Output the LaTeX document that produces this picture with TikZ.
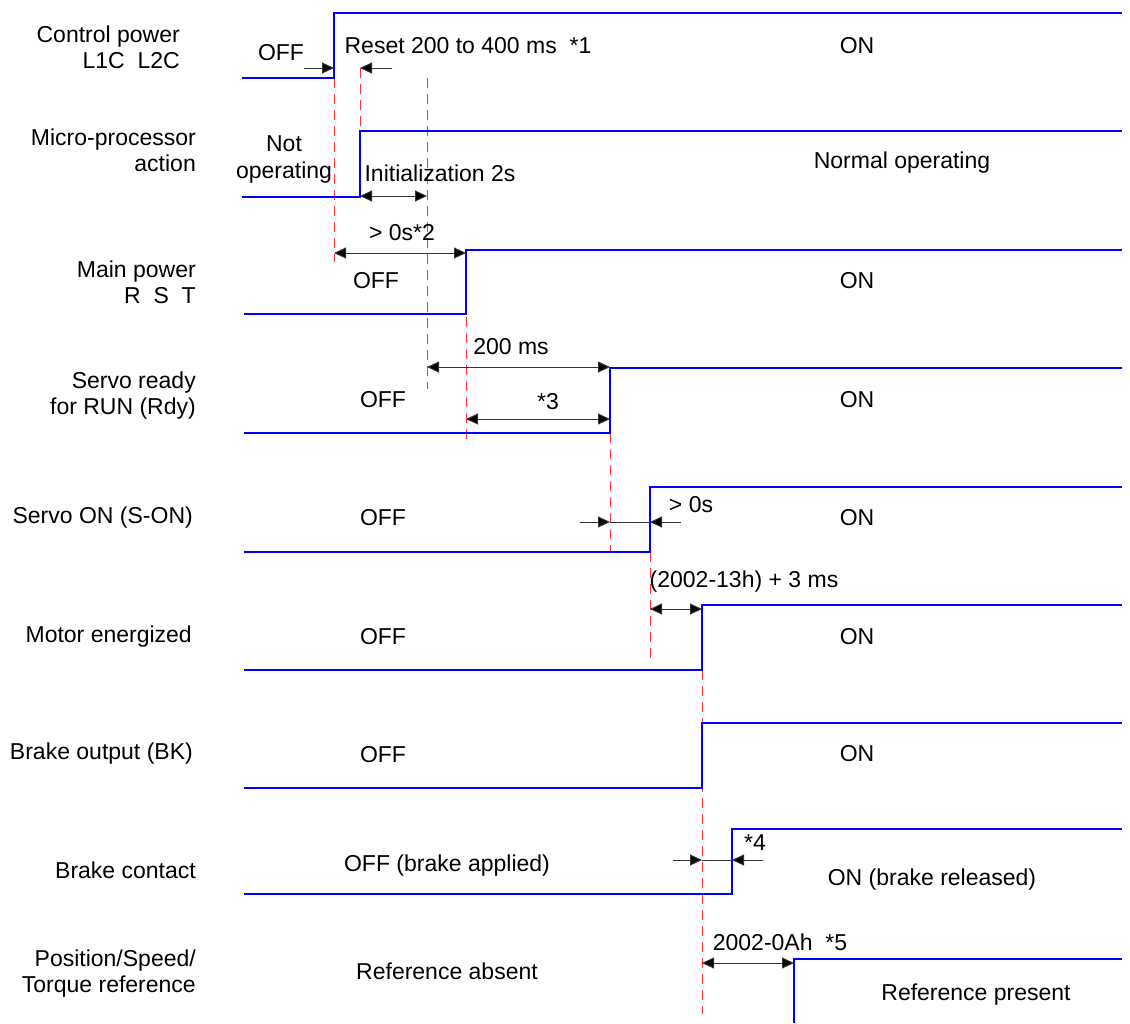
\documentclass[tikz,border=0pt]{standalone}
\usepackage{fontspec}
\setmainfont{Liberation Sans}
\usetikzlibrary{arrows.meta}
\tikzset{
  sig/.style={draw=blue, line width=1.8pt, line join=miter},
  guide/.style={draw=red!80, line width=1pt, dash pattern=on 10pt off 6pt},
  dim/.style={draw=black!80, line width=1pt, {Triangle[length=12pt,width=11pt,fill=black]}-{Triangle[length=12pt,width=11pt,fill=black]}},
  dimr/.style={draw=black!80, line width=1pt, -{Triangle[length=12pt,width=11pt,fill=black]}},
  plain/.style={draw=black!80, line width=1pt},
  txt/.style={inner sep=0pt, font=\fontsize{23}{27}\selectfont},
  lbl/.style={inner sep=0pt, font=\fontsize{23}{26}\selectfont, align=right, anchor=east}
}
\begin{document}
\begin{tikzpicture}[x=1pt,y=-1pt]
\useasboundingbox (0,0) rectangle (1130,1023);
% ---- left labels
\node[lbl] (l1) at (180,47) {Control power\\L1C~~L2C};
\node[lbl] (l2) at (196,150) {Micro-processor\\action};
\node[lbl] (l3) at (196,282) {Main power\\R~~S~~T};
\node[lbl] (l4) at (196,396) {Servo ready\\for RUN (Rdy)};
\node[lbl] (l5) at (193,518) {Servo ON (S-ON)};
\node[lbl] (l6) at (192,637) {Motor energized};
\node[lbl] (l7) at (193,754) {Brake output (BK)};
\node[lbl] (l8) at (196,870) {Brake contact};
\node[lbl] (l9) at (196,974) {Position/Speed/\\Torque reference};
% ---- red guides
\coordinate (g1a) at (334,78);  \coordinate (g1b) at (334,262);
\coordinate (g2a) at (360,68);  \coordinate (g2b) at (360,197);
\coordinate (g3a) at (427,78);  \coordinate (g3b) at (427,389);
\coordinate (g4a) at (466,253); \coordinate (g4b) at (466,440);
\coordinate (g5a) at (610,433); \coordinate (g5b) at (610,552);
\coordinate (g6a) at (650,552); \coordinate (g6b) at (650,664);
\coordinate (g7a) at (702,670); \coordinate (g7b) at (702,1014);
\foreach \g in {1,...,7} \draw[guide] (g\g a) -- (g\g b);
% ---- signals
\draw[sig] (242,78) -- (334,78) -- (334,13) -- (1122,13);
\draw[sig] (242,197) -- (360,197) -- (360,131) -- (1122,131);
\draw[sig] (244,314) -- (466,314) -- (466,250) -- (1122,250);
\draw[sig] (244,433) -- (610,433) -- (610,368) -- (1122,368);
\draw[sig] (244,552) -- (650,552) -- (650,487) -- (1122,487);
\draw[sig] (244,670) -- (702,670) -- (702,605) -- (1122,605);
\draw[sig] (244,788) -- (702,788) -- (702,723) -- (1122,723);
\draw[sig] (244,894) -- (732,894) -- (732,829) -- (1122,829);
\draw[sig] (794,1023) -- (794,959) -- (1122,959);
% ---- state texts
\node[txt] (t1a) at (281,53) {OFF};
\node[txt] (t1b) at (468,46) {Reset 200 to 400 ms~~*1};
\node[txt] (t1c) at (857,46) {ON};
\node[txt, align=center] (t2a) at (284,159) {Not\\operating};
\node[txt] (t2b) at (440,173) {Initialization 2s};
\node[txt] (t2c) at (902,163) {Normal operating};
\node[txt] (t3a) at (402,233) {> 0s*2};
\node[txt] (t3b) at (376,281) {OFF};
\node[txt] (t3c) at (857,281) {ON};
\node[txt] (t4a) at (511,347) {200 ms};
\node[txt] (t4b) at (548,402) {*3};
\node[txt] (t4c) at (383,400) {OFF};
\node[txt] (t4d) at (857,400) {ON};
\node[txt] (t5a) at (691,505) {> 0s};
\node[txt] (t5b) at (383,518) {OFF};
\node[txt] (t5c) at (857,518) {ON};
\node[txt] (t6a) at (744,582) {(2002-13h) + 3 ms};
\node[txt] (t6b) at (383,637) {OFF};
\node[txt] (t6c) at (857,637) {ON};
\node[txt] (t7a) at (383,755) {OFF};
\node[txt] (t7b) at (857,754) {ON};
\node[txt] (t8a) at (755,843) {*4};
\node[txt] (t8b) at (447,866) {OFF (brake applied)};
\node[txt] (t8c) at (932,880) {ON (brake released)};
\node[txt] (t9a) at (780,942) {2002-0Ah~~*5};
\node[txt] (t9b) at (447,971) {Reference absent};
\node[txt] (t9c) at (976,995) {Reference present};
% ---- dimension arrows
\coordinate (a1s) at (304,68); \coordinate (a1e) at (334,68);
\coordinate (a2s) at (392,68); \coordinate (a2e) at (360,68);
\draw[dimr] (a1s) -- (a1e);
\draw[dimr] (a2s) -- (a2e);
\draw[dim] (360,196) coordinate (b1) -- (427,196) coordinate (b2);
\draw[dim] (334,253) coordinate (c1) -- (466,253) coordinate (c2);
\draw[dim] (427,367) coordinate (d1) -- (610,367) coordinate (d2);
\draw[dim] (466,419) coordinate (e1) -- (610,419) coordinate (e2);
\coordinate (f0) at (580,522); \coordinate (f1) at (610,522);
\coordinate (f2) at (650,522); \coordinate (f3) at (681,522);
\draw[plain] (f1) -- (f2);
\draw[dimr] (f0) -- (f1);
\draw[dimr] (f3) -- (f2);
\draw[dim] (650,609) coordinate (h1) -- (702,609) coordinate (h2);
\coordinate (k0) at (673,860); \coordinate (k1) at (702,860);
\coordinate (k2) at (732,860); \coordinate (k3) at (763,860);
\draw[plain] (k1) -- (k2);
\draw[dimr] (k0) -- (k1);
\draw[dimr] (k3) -- (k2);
\draw[dim] (702,963) coordinate (m1) -- (794,963) coordinate (m2);
\end{tikzpicture}
\end{document}
